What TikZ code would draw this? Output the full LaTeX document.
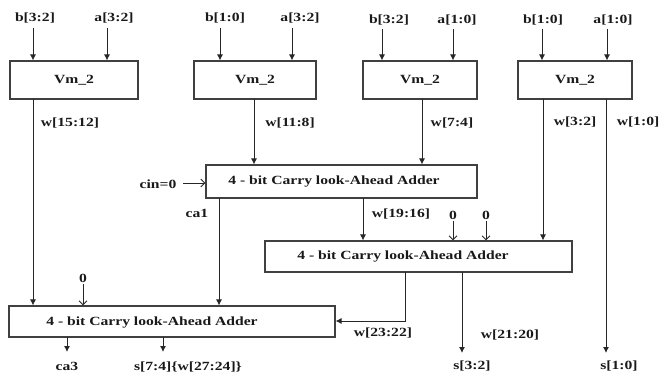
\documentclass[tikz,border=0pt]{standalone}
\usepackage{fontspec}
\setmainfont{Liberation Serif}[FakeStretch=1.25]
\usetikzlibrary{arrows.meta}
\begin{document}
\begin{tikzpicture}[x=1pt,y=-1pt,
  every node/.style={font=\fontsize{12.5}{14}\selectfont\bfseries, text=black!90, inner sep=0pt},
  blk/.style={draw=black!75, line width=1.1pt, rectangle, inner sep=0pt},
  arr/.style={draw=black!85, line width=0.9pt, -{Latex[length=6pt,width=6pt]}},
  oarr/.style={draw=black!85, line width=0.9pt, -{Straight Barb[length=4pt,width=8pt]}},
  wire/.style={draw=black!85, line width=0.9pt}]
\useasboundingbox (0,0) rectangle (660,374);
% blocks
\node[blk, minimum width=128pt, minimum height=38pt] (vm1) at (74,80) {Vm\_2};
\node[blk, minimum width=122pt, minimum height=38pt] (vm2) at (255,80) {Vm\_2};
\node[blk, minimum width=114pt, minimum height=38pt] (vm3) at (420,80) {Vm\_2};
\node[blk, minimum width=114pt, minimum height=38pt] (vm4) at (575,80) {Vm\_2};
\node[blk, minimum width=271pt, minimum height=33pt] (cla1) at (341.5,181.5) {};
\node[blk, minimum width=307pt, minimum height=31pt] (cla2) at (418.5,256.5) {};
\node[blk, minimum width=326pt, minimum height=31pt] (cla3) at (172,321.5) {};
\node (t1) at (334,182) {4 - bit Carry look-Ahead Adder};
\node (t2) at (403,256.5) {4 - bit Carry look-Ahead Adder};
\node (t3) at (152,323) {4 - bit Carry look-Ahead Adder};
% input labels
\node (ib1) at (35,18) {b[3:2]};
\node (ia1) at (114,18) {a[3:2]};
\node (ib2) at (225,18) {b[1:0]};
\node (ia2) at (300,18) {a[3:2]};
\node (ib3) at (389,20) {b[3:2]};
\node (ia3) at (457,20) {a[1:0]};
\node (ib4) at (543,20) {b[1:0]};
\node (ia4) at (613,20) {a[1:0]};
\coordinate (cb1) at (33,28);
\coordinate (ca1i) at (107,28);
\coordinate (cb2) at (220,28);
\coordinate (ca2i) at (292,28);
\coordinate (cb3) at (382,29);
\coordinate (ca3i) at (453,29);
\coordinate (cb4) at (542,29);
\coordinate (ca4i) at (607,29);
\draw[arr] (cb1) -- (cb1 |- vm1.north);
\draw[arr] (ca1i) -- (ca1i |- vm1.north);
\draw[arr] (cb2) -- (cb2 |- vm2.north);
\draw[arr] (ca2i) -- (ca2i |- vm2.north);
\draw[arr] (cb3) -- (cb3 |- vm3.north);
\draw[arr] (ca3i) -- (ca3i |- vm3.north);
\draw[arr] (cb4) -- (cb4 |- vm4.north);
\draw[arr] (ca4i) -- (ca4i |- vm4.north);
% vm outputs
\coordinate (o1) at (33,99);
\coordinate (o2) at (254,99);
\coordinate (o3) at (422,99);
\coordinate (o4a) at (543,99);
\coordinate (o4b) at (606,99);
\draw[arr] (o1) -- (o1 |- cla3.north);
\draw[arr] (o2) -- (o2 |- cla1.north);
\draw[arr] (o3) -- (o3 |- cla1.north);
\draw[arr] (o4a) -- (o4a |- cla2.north);
\coordinate (s10) at (606,353);
\draw[arr] (o4b) -- (s10);
\node (lw1) at (70,123) {w[15:12]};
\node (lw2) at (290,123) {w[11:8]};
\node (lw3) at (452,123) {w[7:4]};
\node (lw4) at (575,122) {w[3:2]};
\node (lw5) at (638,122) {w[1:0]};
% cin
\node (cin) at (158,184) {cin=0};
\draw[oarr] (183,183) -- (183,183 -| cla1.west);
% cla1 outputs
\coordinate (c1o) at (219,198);
\draw[arr] (c1o) -- (c1o |- cla3.north);
\node (lca1) at (197,213) {ca1};
\coordinate (c1s) at (363,198);
\draw[arr] (c1s) -- (c1s |- cla2.north);
\node (lw6) at (401,214) {w[19:16]};
% zeros into cla2
\node (z1) at (453,215) {0};
\node (z2) at (486,215) {0};
\draw[oarr] (z1.south) ++(0,2) -- (z1.south |- cla2.north);
\draw[oarr] (z2.south) ++(0,2) -- (z2.south |- cla2.north);
% cla2 outputs
\coordinate (c2c) at (405,272);
\draw[arr] (c2c) -- (405,321) -- (cla3.east |- 0,321);
\node (lw7) at (383,333) {w[23:22]};
\coordinate (c2s) at (462,272);
\coordinate (s32) at (462,353);
\draw[arr] (c2s) -- (s32);
\node (lw8) at (510,335) {w[21:20]};
\node (ls32) at (472,366) {s[3:2]};
\node (ls10) at (619,366) {s[1:0]};
% zero into cla3
\node (z3) at (83,278) {0};
\draw[oarr] (z3.south) ++(0,2) -- (z3.south |- cla3.north);
% cla3 outputs
\coordinate (c3c) at (67,337);
\coordinate (c3s) at (163,337);
\draw[arr] (c3c) -- (67,352);
\draw[arr] (c3s) -- (163,352);
\node (lca3) at (67,366) {ca3};
\node (ls74) at (188,367) {s[7:4]\{w[27:24]\}};
\end{tikzpicture}
\end{document}
